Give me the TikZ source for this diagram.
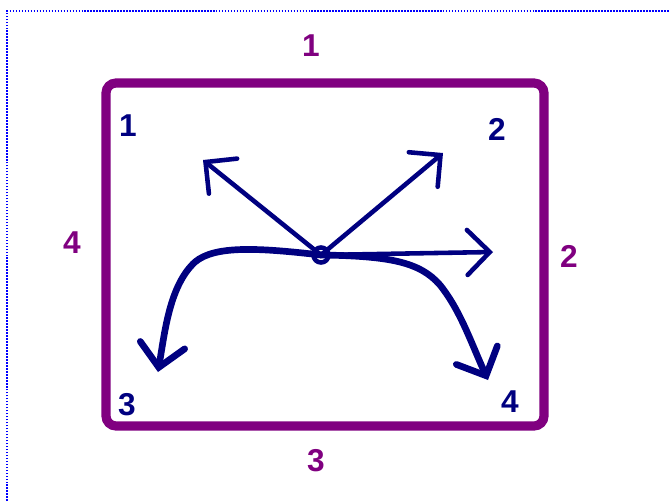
\documentclass[tikz,border=0pt]{standalone}
\usepackage{fontspec}
\setmainfont{Liberation Sans}
\usetikzlibrary{arrows.meta}
\definecolor{boxpurple}{HTML}{800080}
\definecolor{inknavy}{HTML}{000080}
\tikzset{
  sidenum/.style={text=boxpurple,font=\fontsize{18}{20}\selectfont\bfseries},
  cornernum/.style={text=inknavy,font=\fontsize{18}{20}\selectfont\bfseries},
  ray/.style={inknavy,line width=2.6pt,line cap=round,line join=round,-{Straight Barb[length=0.45cm,width=0.9cm,line cap=round]}},
  curvedray/.style={ray,line width=3.8pt}
}
\begin{document}
\begin{tikzpicture}[x=0.02cm,y=-0.02cm]
  \useasboundingbox (0,0) rectangle (669,501);
  \draw[blue,line width=0.9pt,dash pattern=on 0.9pt off 0.8pt] (7,501) -- (7,11) -- (669,11);
  % frame
  \draw[boxpurple,line width=5.2pt,rounded corners=0.2cm] (106,83) rectangle (544,426);
  \node[sidenum] (sideT) at (311,46) {1};
  \node[sidenum] (sideR) at (569,256) {2};
  \node[sidenum] (sideB) at (316,461) {3};
  \node[sidenum] (sideL) at (72,243) {4};
  \node[cornernum] (cornerA) at (128,126) {1};
  \node[cornernum] (cornerB) at (497,129) {2};
  \node[cornernum] (cornerC) at (127,405) {3};
  \node[cornernum] (cornerD) at (510,402) {4};
  % point and directions
  \node[draw=inknavy,line width=2.6pt,circle,inner sep=0pt,minimum size=0.3cm] (pt) at (321,255) {};
  \coordinate (tipA) at (203,160);
  \coordinate (tipB) at (443,153);
  \coordinate (tipR) at (493,252);
  \coordinate (tipC) at (158,372);
  \coordinate (tipD) at (488,380);
  \draw[ray] (pt.center) -- (tipA);
  \draw[ray] (pt.center) -- (tipB);
  \draw[ray] (pt.center) -- (tipR);
  \draw[curvedray] (pt.center) .. controls (260,248) and (215,245) .. (195,262)
    .. controls (170,285) and (165,330) .. (tipC);
  \draw[curvedray] (pt.center) .. controls (390,256) and (420,262) .. (440,285)
    .. controls (460,310) and (470,340) .. (tipD);
\end{tikzpicture}
\end{document}
